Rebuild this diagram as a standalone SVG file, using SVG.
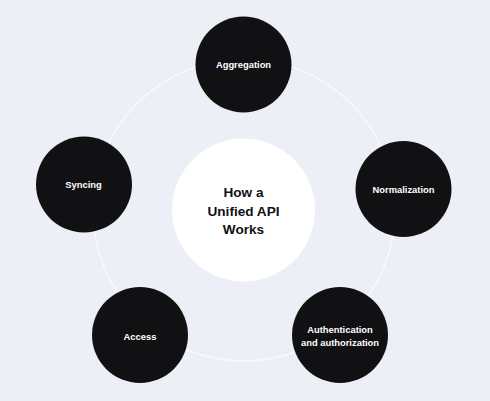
<svg xmlns="http://www.w3.org/2000/svg" width="490" height="401" viewBox="0 0 490 401">
<style>
.node{fill:#111113}
.lbl{fill:#ffffff;font-family:"Liberation Sans",Arial,sans-serif;font-weight:bold;font-size:9.4px;text-anchor:middle}
.title{fill:#111113;font-family:"Liberation Sans",Arial,sans-serif;font-weight:bold;font-size:13.6px;text-anchor:middle}
</style>
<rect width="490" height="401" fill="#eceff5"/>
<g id="connectors">
<circle cx="244" cy="210" r="151" fill="none" stroke="#ffffff" stroke-width="1.3" opacity="0.75"/>
</g>
<g id="center">
<circle cx="243.5" cy="210" r="71.5" fill="#ffffff"/>
<text class="title" x="243.5" y="197">How a</text>
<text class="title" x="243.5" y="215.5">Unified API</text>
<text class="title" x="243.5" y="234">Works</text>
</g>
<g id="aggregation">
<circle class="node" cx="243.5" cy="64.5" r="48"/>
<text class="lbl" x="243.5" y="68">Aggregation</text>
</g>
<g id="normalization">
<circle class="node" cx="403.5" cy="189" r="48"/>
<text class="lbl" x="403.5" y="192.5">Normalization</text>
</g>
<g id="authentication">
<circle class="node" cx="340" cy="335" r="48"/>
<text class="lbl" x="340" y="332.5">Authentication</text>
<text class="lbl" x="340" y="346">and authorization</text>
</g>
<g id="access">
<circle class="node" cx="140" cy="335" r="48"/>
<text class="lbl" x="140" y="340">Access</text>
</g>
<g id="syncing">
<circle class="node" cx="84" cy="184.5" r="48"/>
<text class="lbl" x="83.5" y="188">Syncing</text>
</g>
</svg>
